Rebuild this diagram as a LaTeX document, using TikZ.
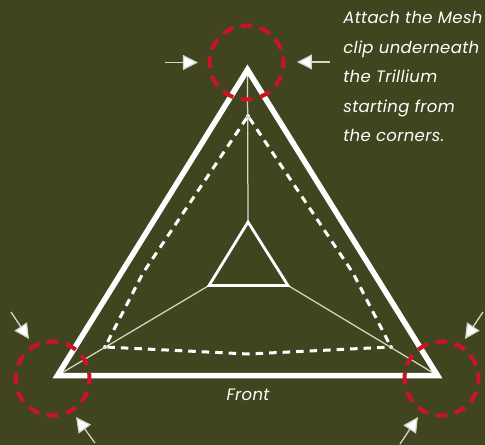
\documentclass[tikz,border=0pt]{standalone}
\usepackage{fontspec}
\setmainfont{Poppins}[LetterSpace=2]
\usetikzlibrary{arrows.meta,calc}
\definecolor{trilBack}{HTML}{41451F}
\definecolor{trilRing}{HTML}{CF1224}
\definecolor{trilThin}{HTML}{D4D6C8}
\begin{document}
\begin{tikzpicture}[x=0.2mm,y=-0.2mm,font=\fontsize{9.4pt}{10pt}\selectfont\itshape,
    frame/.style={draw=white,line width=1.1mm,miter limit=10},
    core/.style={draw=white,line width=0.55mm,miter limit=10},
    spoke/.style={draw=trilThin,line width=0.25mm},
    clipline/.style={draw=white,line width=0.6mm,dash pattern=on 1.5mm off 1.2mm},
    ring/.style={draw=trilRing,line width=0.8mm,dash pattern=on 2.3mm off 1.575mm,dash phase=1.15mm},
    pointer/.style={-{Triangle[length=3mm,width=3mm,fill=white]},draw=trilThin,line width=0.25mm},
    dot/.style={circle,fill=white,inner sep=0pt,minimum size=0.8mm},
    note/.style={text=white,anchor=base west,inner sep=0pt}]

  \fill[trilBack] (0,0) rectangle (485,445);
  \useasboundingbox (0,0) rectangle (485,445);

  % outer frame and inner triangle
  \coordinate (top) at (247.5,69.7);
  \coordinate (left) at (57.5,375.5);
  \coordinate (right) at (437.5,375.5);
  \coordinate (coreTop) at (248,222);
  \coordinate (coreLeft) at (209,285.5);
  \coordinate (coreRight) at (288,285.5);

  \node[dot] (clipTop) at (248,116) {};
  \node[dot] (clipLeft) at (105,347) {};
  \node[dot] (clipRight) at (391,347) {};
  \coordinate (clipBase) at (248,354);
  \coordinate (bendLeft) at (143,273);
  \coordinate (bendRight) at (353,273);

  \draw[spoke] (top) -- (coreTop);
  \draw[spoke] (left) -- (coreLeft);
  \draw[spoke] (right) -- (coreRight);

  \draw[clipline] (clipTop) -- (bendLeft) -- (clipLeft);
  \draw[clipline] (clipTop) -- (bendRight) -- (clipRight);
  \draw[clipline] (clipLeft) -- (clipBase) -- (clipRight);

  \draw[frame] (top) -- (right) -- (left) -- cycle;
  \draw[core] (coreTop) -- (coreRight) -- (coreLeft) -- cycle;

  % corner rings
  \coordinate (ringTop) at (246.5,62.5);
  \coordinate (ringLeft) at (52.5,378.5);
  \coordinate (ringRight) at (441.5,378.5);
  \draw[ring] (ringTop) circle [radius=7.4mm];
  \draw[ring] (ringLeft) circle [radius=7.4mm];
  \draw[ring] (ringRight) circle [radius=7.4mm];

  % arrows
  \coordinate (a1) at (165,62.5);  \coordinate (b1) at (198,62.5);
  \coordinate (a2) at (330,62);    \coordinate (b2) at (297,62);
  \coordinate (a3) at (11,312);    \coordinate (b3) at (29,339);
  \coordinate (a4) at (95,443);    \coordinate (b4) at (76,417);
  \coordinate (a5) at (483,312);   \coordinate (b5) at (465,339);
  \coordinate (a6) at (400,444);   \coordinate (b6) at (418,417);
  \foreach \n in {1,...,6} \draw[pointer] (a\n) -- (b\n);

  \node[note] (line1) at (343,23.5) {Attach the Mesh};
  \node[note] (line2) at (343,53) {clip underneath};
  \node[note] (line3) at (343,82.5) {the Trillium};
  \node[note] (line4) at (343,112) {starting from};
  \node[note] (line5) at (343,141) {the corners.};
  \node[text=white,inner sep=0pt] (front) at (248,395) {Front};
\end{tikzpicture}
\end{document}
